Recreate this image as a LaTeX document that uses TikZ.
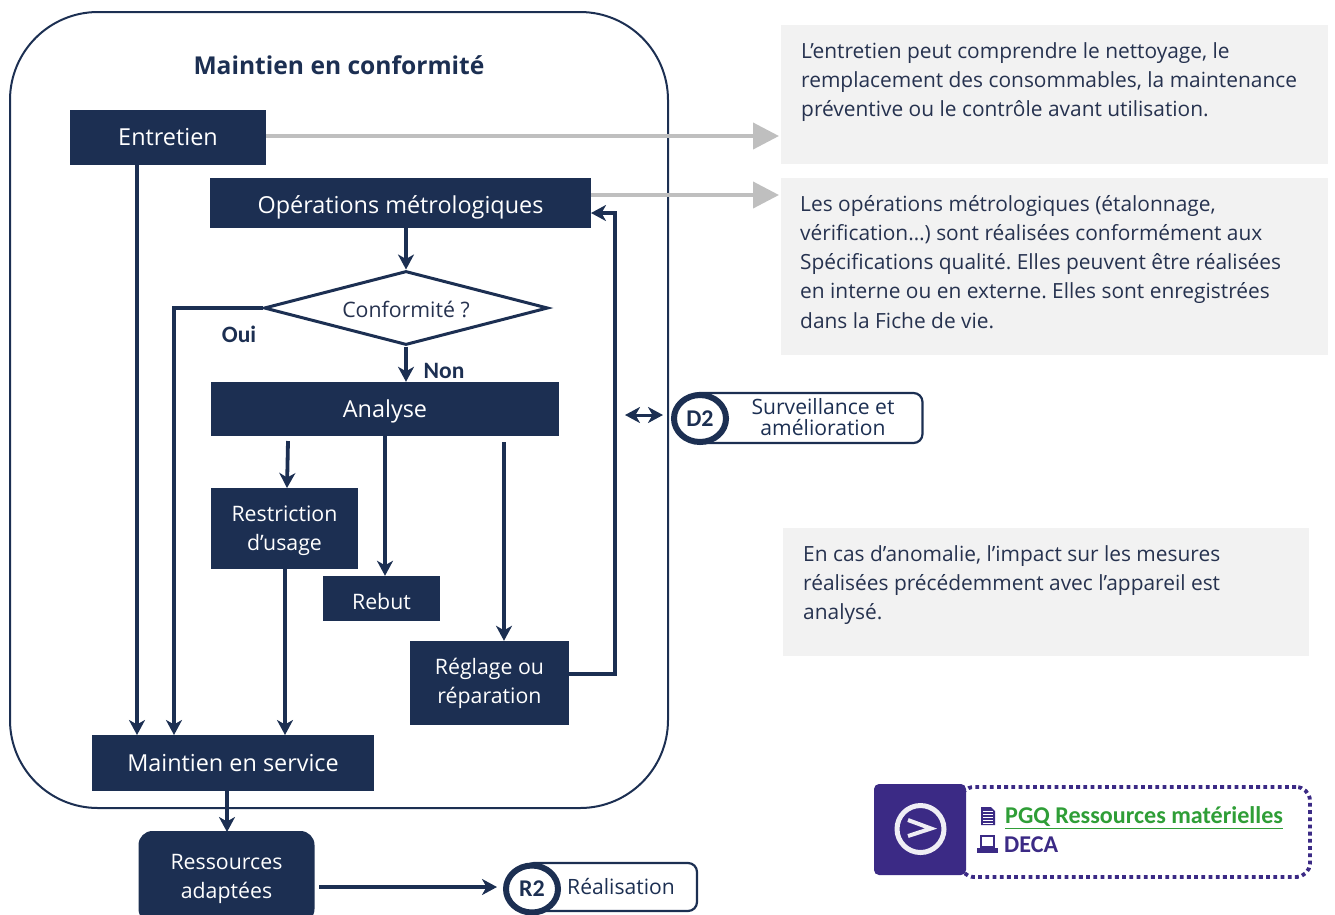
\documentclass[tikz,border=0pt]{standalone}
\usepackage{fontspec}
\setmainfont{Open Sans}
\newfontfamily\carl{Carlito}
\usetikzlibrary{arrows.meta,shapes.geometric,calc}
\definecolor{navy}{HTML}{1C2F52}
\definecolor{graybox}{HTML}{F2F2F2}
\definecolor{grayarrow}{HTML}{BFBFBF}
\definecolor{violet}{HTML}{3B2A85}
\definecolor{pgq}{HTML}{2F9E37}
\definecolor{txt}{HTML}{26324F}
\newcommand{\dn}[1]{\rule{0pt}{#1pt}}
\frenchspacing
\tikzset{
  x=1pt,y=-1pt,
  darkbox/.style={fill=navy,text=white,inner sep=0pt,align=center,font=\fontsize{#1}{29}\selectfont},
  darkbox/.default=20,
  flow/.style={draw=navy,line width=3.8pt,-{Stealth[length=15pt,width=16pt,inset=4.5pt]}},
  grayflow/.style={draw=grayarrow,line width=4pt,-{Triangle[length=26pt,width=26pt]}},
  note/.style={fill=graybox,anchor=north west,inner sep=0pt},
  notetext/.style={anchor=north west,inner sep=0pt,align=left,text=txt,font=\fontsize{20.9}{29.2}\selectfont},
  pill/.style={draw=navy,line width=2.2pt,fill=white,rounded corners=9pt},
  badge/.style={ellipse,draw=navy,line width=6pt,fill=white,inner sep=0pt,minimum width=52pt,minimum height=47pt,text=navy,font=\carl\bfseries\fontsize{24}{24}\selectfont},
  labeltxt/.style={text=navy,inner sep=0pt,align=center,font=\fontsize{21.1}{21}\selectfont},
  yesno/.style={text=navy,inner sep=0pt,font=\carl\bfseries\fontsize{23.5}{22}\selectfont},
}
\begin{document}
\begin{tikzpicture}
\useasboundingbox (0,0) rectangle (1335,914);
% container
\draw[draw=navy,line width=2pt,rounded corners=88pt] (10,12) rectangle (668,808);
\node[text=navy,inner sep=0pt,font=\bfseries\fontsize{24.6}{26}\selectfont] (title) at (339,65) {Maintien en conformité};
% grey notes
\node[note,minimum width=547pt,minimum height=139pt] (n1) at (781,25) {};
\node[note,minimum width=547pt,minimum height=177pt] (n2) at (781,178) {};
\node[note,minimum width=526pt,minimum height=128pt] (n3) at (783,528) {};
\node[notetext] (t1) at (801,42) {L’entretien peut comprendre le nettoyage, le\\remplacement des consommables, la maintenance\\préventive ou le contrôle avant utilisation.};
\node[notetext] (t2) at (800,195) {Les opérations métrologiques (étalonnage,\\vérification…) sont réalisées conformément aux\\Spécifications qualité. Elles peuvent être réalisées\\en interne ou en externe. Elles sont enregistrées\\dans la Fiche de vie.};
\node[notetext] (t3) at (803,545) {En cas d’anomalie, l’impact sur les mesures\\réalisées précédemment avec l’appareil est\\analysé.};
% boxes
\node[darkbox=23.4,minimum width=196pt,minimum height=55pt] (entretien) at (168,137.5) {Entretien};
\node[darkbox=23.4,minimum width=381pt,minimum height=50pt] (ops) at (400.5,203) {\dn{26}Opérations métrologiques};
\node[diamond,draw=navy,line width=3pt,fill=white,aspect=3.85,inner sep=0pt,minimum width=284pt,minimum height=74pt] (conf) at (406,308) {};
\node[text=txt,inner sep=0pt,font=\fontsize{21.3}{22}\selectfont] (conftxt) at (406,309) {Conformité ?};
\node[darkbox=23.4,minimum width=348pt,minimum height=54pt] (analyse) at (385,409) {\dn{22}Analyse};
\node[darkbox=21.3,minimum width=147pt,minimum height=81pt] (restr) at (284.5,528.5) {\dn{20}Restriction\\d’usage};
\node[darkbox=21.3,minimum width=117pt,minimum height=45pt] (rebut) at (381.5,598.5) {\dn{22}Rebut};
\node[darkbox=21.3,minimum width=159pt,minimum height=84pt] (reglage) at (489.5,683) {Réglage ou\\réparation};
\node[darkbox=23.4,minimum width=282pt,minimum height=56pt] (maintien) at (233,763) {Maintien en service};
\node[darkbox=21.3,minimum width=176pt,minimum height=92pt,rounded corners=14pt] (ress) at (226.5,877) {\dn{20}Ressources\\adaptées};
% labels
\node[yesno] (oui) at (239,334) {Oui};
\node[yesno] (non) at (444,371) {Non};
% grey arrows
\coordinate (g1) at (779,136);
\coordinate (g2) at (779,195);
\draw[grayflow] (entretien.east |- g1) -- (g1);
\draw[grayflow] (ops.east |- g2) -- (g2);
% flow
\coordinate (eb) at (137,735);
\draw[flow] (entretien.south -| eb) -- (eb);
\draw[flow] (ops.south -| conf.north) -- (conf.north);
\coordinate (ouidown) at (174,735);
\draw[flow] (conf.west) -- (ouidown |- conf.west) -- (ouidown);
\draw[flow] (conf.south) -- (conf.south |- analyse.north);
\coordinate (a1) at (288,441);
\draw[flow] (a1) -- (287,488);
\coordinate (a2) at (385,436);
\draw[flow] (a2) -- (a2 |- rebut.north);
\coordinate (a3) at (504,442);
\draw[flow] (a3) -- (a3 |- reglage.north);
\coordinate (rm) at (285,735);
\draw[flow] (restr.south -| rm) -- (rm);
\coordinate (bk) at (615,213);
\draw[flow] (reglage.east |- 0,674) -- (bk |- 0,674) -- (bk) -- (591,213);
\coordinate (mr) at (227,832);
\draw[flow] (maintien.south -| mr) -- (mr);
% D2
\node[pill,minimum width=232pt,minimum height=50pt,inner sep=0pt] (d2pill) at (806.5,418) {};
\node[badge] (d2) at (700,418.5) {D2};
\node[labeltxt] (d2txt) at (823,417.5) {Surveillance et\\amélioration};
\coordinate (dl) at (625,415);
\coordinate (dr) at (663,415);
\draw[draw=navy,line width=3pt,{Stealth[length=15pt,width=16pt,inset=4.5pt]}-{Stealth[length=15pt,width=16pt,inset=4.5pt]}] (dl) -- (dr);
% R2
\node[pill,minimum width=172pt,minimum height=48pt,inner sep=0pt] (r2pill) at (611,887) {};
\node[badge] (r2) at (532,889) {R2};
\node[labeltxt] (r2txt) at (621,887) {Réalisation};
\coordinate (rs) at (319,887);
\coordinate (re) at (497,887);
\draw[flow] (rs) -- (re);
% link panel
\node[draw=violet,line width=3.8pt,dash pattern=on 3.8pt off 3.4pt,rounded corners=14pt,minimum width=350pt,minimum height=90pt,inner sep=0pt] (panel) at (1135,832) {};
\node[fill=violet,rounded corners=5pt,minimum width=92pt,minimum height=91pt,inner sep=0pt] (sq) at (920,829.5) {};
\node[circle,draw=white!92!violet,line width=5pt,minimum size=47pt,inner sep=0pt] (ring) at (920.5,829) {};
\draw[white!92!violet,line width=4pt] (908,820) -- (931,828.5) -- (908,836);
% icons
\fill[violet] (981,807) -- (991,807) -- (995,811) -- (995,825) -- (981,825) -- cycle;
\foreach \yy in {811,814,817,820,823} \draw[white,line width=.8pt] (983,\yy) -- (993,\yy);
\fill[violet] (980,835) rectangle (995,848);
\fill[white] (982,837) rectangle (993,846);
\fill[violet] (977,848) rectangle (998,853);
% link texts
\node[anchor=west,inner sep=0pt,text=pgq,font=\carl\bfseries\fontsize{24.1}{24}\selectfont] (pgq) at (1005,818) {\underline{PGQ Ressources matérielles}};
\node[anchor=west,inner sep=0pt,text=violet,font=\carl\bfseries\fontsize{24.1}{24}\selectfont] (deca) at (1004,845) {DECA};
\end{tikzpicture}
\end{document}
